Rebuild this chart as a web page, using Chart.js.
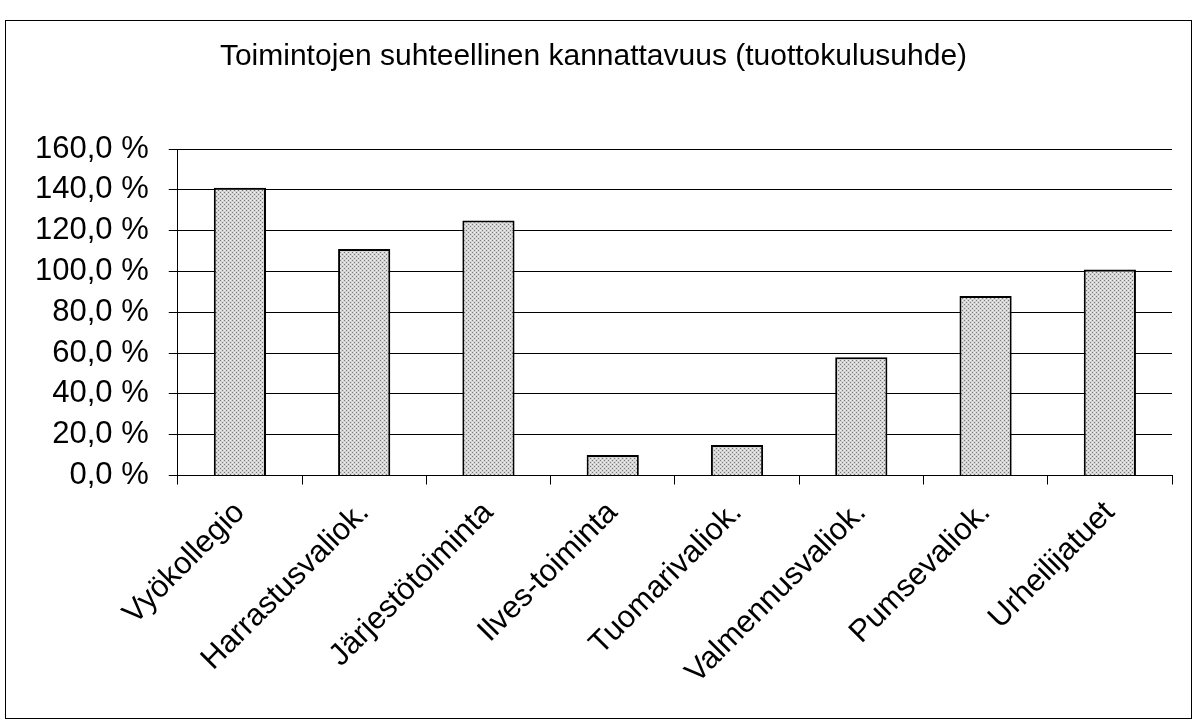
<!DOCTYPE html>
<html>
<head>
<meta charset="utf-8">
<script src="https://cdn.jsdelivr.net/npm/chart.js@4/dist/chart.umd.min.js"></script>
<style>
  html, body { margin: 0; padding: 0; background: #fff; }
  #wrap { width: 1198px; height: 727px; position: relative; }
</style>
</head>
<body>
<div id="wrap"><canvas id="c" width="1198" height="727"></canvas></div>
<script>
const chartTitle = 'Toimintojen suhteellinen kannattavuus (tuottokulusuhde)';
const categories = ['Vyökollegio', 'Harrastusvaliok.', 'Järjestötoiminta', 'Ilves-toiminta',
                    'Tuomarivaliok.', 'Valmennusvaliok.', 'Pumsevaliok.', 'Urheilijatuet'];
const ratioValues = [141, 111, 125, 10, 15, 58, 88, 101];
const yMin = 0, yMax = 160, yStep = 20;

function makePattern() {
  const p = document.createElement('canvas');
  p.width = 4; p.height = 4;
  const g = p.getContext('2d');
  g.fillStyle = '#d4d4d4';
  g.fillRect(0, 0, 4, 4);
  g.fillStyle = '#7a7a7a';
  g.fillRect(0, 0, 1, 1);
  g.fillRect(2, 2, 1, 1);
  g.fillStyle = '#f2f2f2';
  g.fillRect(2, 0, 1, 1);
  g.fillRect(0, 2, 1, 1);
  return document.getElementById('c').getContext('2d').createPattern(p, 'repeat');
}

const frame = {
  id: 'frame',
  beforeDraw(chart) {
    const ctx = chart.ctx;
    ctx.save();
    ctx.fillStyle = '#fff';
    ctx.fillRect(0, 0, chart.width, chart.height);
    ctx.strokeStyle = '#000';
    ctx.lineWidth = 1;
    ctx.strokeRect(5.5, 20.5, chart.width - 12, chart.height - 29);
    ctx.restore();
  }
};

const FONT = "Arial, 'Liberation Sans', sans-serif";

new Chart(document.getElementById('c'), {
  type: 'bar',
  data: {
    labels: categories,
    datasets: [{
      data: ratioValues,
      backgroundColor: makePattern(),
      borderColor: '#000',
      borderWidth: 2,
      borderSkipped: 'bottom',
      barPercentage: 0.42,
      categoryPercentage: 1.0
    }]
  },
  options: {
    responsive: false,
    animation: false,
    layout: { padding: { left: 15, right: 26, top: 0, bottom: 26 } },
    plugins: {
      legend: { display: false },
      tooltip: { enabled: false },
      title: {
        display: true,
        text: chartTitle,
        color: '#000',
        font: { family: FONT, size: 30, weight: 'normal' },
        padding: { top: 39, bottom: 74 }
      }
    },
    scales: {
      x: {
        grid: { display: true, offset: true, drawOnChartArea: false, color: '#000', tickLength: 9 },
        border: { display: true, color: '#000', width: 1 },
        ticks: {
          color: '#000',
          font: { family: FONT, size: 31 },
          minRotation: 45, maxRotation: 45,
          padding: 10,
          autoSkip: false
        }
      },
      y: {
        min: yMin, max: yMax,
        grid: { color: '#000', lineWidth: 1, tickLength: 9 },
        border: { display: true, color: '#000', width: 1 },
        ticks: {
          stepSize: yStep,
          autoSkip: false,
          color: '#000',
          font: { family: FONT, size: 31 },
          padding: 20,
          callback: v => v.toFixed(1).replace('.', ',') + ' %'
        }
      }
    }
  },
  plugins: [frame]
});
</script>
</body>
</html>
